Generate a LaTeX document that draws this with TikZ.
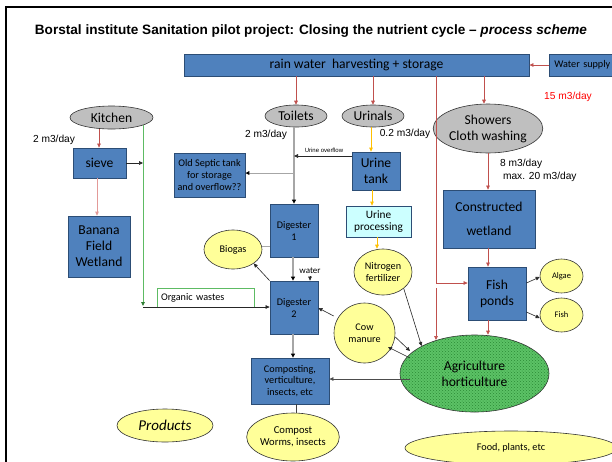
\documentclass[tikz,border=0pt]{standalone}
\usepackage{fontspec}
\setmainfont{Carlito}
\newfontfamily\arialf{Liberation Sans}
\usetikzlibrary{shapes.geometric,arrows.meta,patterns}
\definecolor{boxblue}{HTML}{4F81BD}
\definecolor{boxedge}{HTML}{2C4D75}
\definecolor{ellgray}{HTML}{BFBFBF}
\definecolor{ellyel}{HTML}{FFFF99}
\definecolor{cyanbox}{HTML}{CCFFFF}
\definecolor{redl}{HTML}{C0504D}
\definecolor{lightred}{HTML}{E39A98}
\definecolor{goldl}{HTML}{FFC000}
\definecolor{greenl}{HTML}{5DBB63}
\definecolor{darkgreenl}{HTML}{2E7D32}
\definecolor{agrgreen}{HTML}{5CC266}
\definecolor{agrdark}{HTML}{2A8A35}
\definecolor{grayl}{HTML}{A6A6A6}
\definecolor{redtext}{HTML}{FF0000}
\newcommand\myfbig{\fontsize{13.6}{16}\selectfont}
\newcommand\myfmid{\fontsize{10.2}{12}\selectfont}
\newcommand\myfsmall{\fontsize{8.5}{10}\selectfont}
\begin{document}
\begin{tikzpicture}[x=1pt,y=-1pt,
  bluebox/.style={draw=boxedge, fill=boxblue, line width=0.8pt, inner sep=1pt, align=center, font=\myfbig},
  ell/.style={ellipse, draw=black!80, line width=0.6pt, inner sep=0pt, align=center},
  grayell/.style={ell, fill=ellgray, font=\myfbig},
  yell/.style={ell, fill=ellyel, font=\myfmid},
  arr/.style={-{Triangle[length=4pt,width=3.6pt]}},
  redarr/.style={draw=redl, line width=0.7pt, arr},
  goldarr/.style={draw=goldl, line width=0.8pt, arr},
  grayarr/.style={draw=grayl, line width=2.2pt, -{Triangle[length=4pt,width=4pt,color=black]}},
  blkarr/.style={draw=black!85, line width=0.6pt, arr},
  lbl/.style={font=\arialf\myfmid, inner sep=0pt}
]
\useasboundingbox (0,0) rectangle (612,461);
\clip (0,0) rectangle (612,461);
\fill[white] (0,0) rectangle (612,461);
% frame
\draw[line width=2.5pt] (6,480) -- (6,7) -- (630,7);
% title
\node[font=\fontsize{13.6}{16}\selectfont\arialf\bfseries, inner sep=0pt] (title) at (311,31)
  {Borstal institute Sanitation pilot project: Closing the nutrient cycle – \textit{process scheme}};

% top boxes
\node[bluebox, minimum width=345pt, minimum height=22pt] (rain) at (356.5,65) {rain water\ \ harvesting + storage};
\node[bluebox, font=\myfmid, minimum width=76pt, minimum height=22pt, text width=68pt, align=left, inner xsep=5pt, anchor=west] (ws) at (549,65) {Water supply};
\node[lbl, text=redtext] (q15) at (568,97) {15 m3/day};

% ellipses row
\node[grayell, minimum width=83pt, minimum height=23pt] (kitchen) at (111.5,117.5) {Kitchen};
\node[grayell, minimum width=62pt, minimum height=22pt] (toilets) at (296,116) {Toilets};
\node[grayell, minimum width=62pt, minimum height=22pt] (urinals) at (373,116) {Urinals};
\node[grayell, minimum width=98pt, minimum height=49pt] (showers) at (488,128.5) {Showers\\Cloth washing};

% boxes
\node[bluebox, minimum width=53pt, minimum height=30pt] (sieve) at (99.5,163) {sieve};
\node[bluebox, minimum width=62pt, minimum height=61pt] (banana) at (99,246.5) {Banana\\Field\\Wetland};
\node[bluebox, font=\myfmid, minimum width=71pt, minimum height=44pt] (old) at (209.5,175) {Old Septic tank\\for storage\\and overflow??};
\node[bluebox, minimum width=48pt, minimum height=38pt] (utank) at (376,171) {Urine\\tank};
\node[bluebox, fill=cyanbox, font=\fontsize{11.3}{12}\selectfont, minimum width=65pt, minimum height=31pt] (uproc) at (378.5,221.5) {Urine\\processing};
\node[bluebox, minimum width=92pt, minimum height=58pt] (wetland) at (489,219) {Constructed\\[8pt]wetland};
\node[bluebox, minimum width=58pt, minimum height=53pt] (fish) at (497,293.5) {Fish\\ponds};
\node[bluebox, font=\myfmid, minimum width=48pt, minimum height=53pt] (dig1) at (294,230.5) {Digester\\1};
\node[bluebox, font=\myfmid, minimum width=48pt, minimum height=53pt] (dig2) at (294,307.5) {Digester\\2};
\node[bluebox, font=\fontsize{10.2}{11.5}\selectfont, minimum width=78pt, minimum height=46pt] (comp) at (290,381) {Composting,\\verticulture,\\insects, etc};

% yellow ellipses
\node[yell, minimum width=58pt, minimum height=46pt] (nitro) at (383,272) {Nitrogen\\fertilizer};
\node[yell, minimum width=58pt, minimum height=39pt] (biogas) at (233,249.5) {Biogas};
\node[yell, minimum width=61pt, minimum height=60pt] (cow) at (364.5,333) {Cow\\manure};
\node[yell, font=\myfsmall, minimum width=43pt, minimum height=34pt] (algae) at (561.5,276) {Algae};
\node[yell, font=\myfsmall, minimum width=43pt, minimum height=34pt] (fishe) at (561.5,315) {Fish};
\node[yell, font=\fontsize{10.6}{12}\selectfont, minimum width=72pt, minimum height=48pt] (compost) at (293,437) {Compost\\Worms, insects};
\node[yell, font=\fontsize{15}{17}\selectfont\itshape, minimum width=96pt, minimum height=33pt] (products) at (165,425.5) {Products};
\node[yell, minimum width=212pt, minimum height=34pt] (food) at (511,448) {Food, plants, etc};
\node[ell, fill=agrgreen, postaction={pattern=crosshatch dots, pattern color=agrdark}, font=\myfbig, minimum width=149pt, minimum height=77pt] (agri) at (474.5,373.5) {};
\node[font=\myfbig, align=center, inner sep=0pt] (agritext) at (474.5,373.5) {Agriculture\\horticulture};

% organic wastes
\node[draw=greenl, line width=0.8pt, minimum width=97pt, minimum height=19pt, text width=89pt, align=left, inner xsep=4pt, font=\myfmid] (org) at (205.5,297.5) {Organic wastes};

% labels
\node[lbl] (k2) at (54,140) {2 m3/day};
\node[lbl] (t2) at (266,135) {2 m3/day};
\node[lbl] (u02) at (405,134) {0.2 m3/day};
\node[lbl, font=\arialf\fontsize{6}{7}\selectfont] (uov) at (324,150) {Urine overflow};
\node[lbl, align=left, anchor=west, font=\arialf\fontsize{10.2}{13}\selectfont] (q8) at (500,170) {8 m3/day\\\ max. 20 m3/day};
\node[font=\fontsize{9}{10}\selectfont, inner sep=0pt] (wat) at (310,270.5) {water};

% coordinates
\coordinate (rx) at (436,0);
\coordinate (a1) at (436,340);
\coordinate (rb) at (436,288);
\coordinate (kx) at (99,0);
\coordinate (gk) at (143,125);
\coordinate (gb) at (143,306);
\coordinate (gs) at (143,163);
\coordinate (tx) at (294,0);
\coordinate (ov) at (294,156);
\coordinate (os) at (294,173);
\coordinate (w1) at (310,276);

% red connectors
\draw[redarr] (ws.west) -- (rain.east);
\draw[redarr] (rain.south -| toilets) -- (toilets.north);
\draw[redarr] (rain.south -| urinals) -- (urinals.north);
\draw[redarr] (rain.south -| 484,0) -- (showers.north -| 484,0);
\draw[redarr] (rx |- rain.south) |- ([yshift=10.5pt]fish.west);
\draw[redarr] (rb) -- (a1);
\draw[redarr] (showers.south) -- (wetland.north -| showers.south);
\draw[redarr] (wetland.south -| 488,0) -- (fish.north -| 488,0);
\draw[redarr] (fish.south -| 488,0) -- (agri.north -| 488,0);
\draw[redarr] (kitchen.south -| kx) -- (sieve.north -| kx);
\draw[draw=lightred, line width=0.9pt, arr] (sieve.south -| 97,0) -- (banana.north -| 97,0);

% gold connectors
\draw[goldarr] (urinals.south -| 371,0) -- (utank.north -| 371,0);
\draw[goldarr] (utank.south -| 372,0) -- (uproc.north -| 372,0);
\draw[goldarr] (uproc.south -| 377,0) -- (nitro.north -| 377,0);

% green / kitchen side
\draw[draw=greenl, line width=0.9pt, -{Triangle[length=4pt,width=3.6pt,color=darkgreenl]}] (gk) -- (gb);
\draw[blkarr] (sieve.east |- gs) -- (gs);
\draw[blkarr] (gb |- 0,307) -- (dig2.west |- 0,307);

% toilets branch
\draw[grayarr] (toilets.south -| tx) -- (dig1.north -| tx);
\draw[blkarr] (utank.west |- ov) -- (ov);
\draw[draw=grayl, line width=1pt, -{Triangle[length=4pt,width=3.6pt,color=black]}] (os) -- (old.east |- os);

% digesters
\draw[draw=grayl, line width=1pt] (dig1.west |- 0,246) -- (biogas.east |- 0,246);
\draw[grayarr] (dig1.south -| 293,0) -- (dig2.north -| 293,0);
\draw[blkarr] (w1) -- (dig2.north -| w1);
\draw[blkarr] (dig2.north west) -- (biogas.south east);
\draw[blkarr] (cow.west |- 0,316) -- ([yshift=-0.5pt]dig2.east);
\draw[grayarr] (dig2.south -| 293,0) -- (comp.north -| 293,0);
\draw[draw=black!75, line width=0.7pt] (comp.south -| 296,0) -- (compost.north -| 296,0);

% agriculture
\draw[blkarr] (nitro.south east) -- (agri.north west);
\draw[blkarr] (cow.east |- 0,337) -- (410,351) coordinate (cwa);
\draw[blkarr] (410,358) coordinate (acw) -- (388,347);
\draw[draw=black!70, line width=0.7pt, arr] (410,379) coordinate (ac) -- (comp.east |- ac);

% fish
\draw[blkarr] (fish.east |- 0,283) -- (algae.west |- 0,277);
\draw[blkarr] (fish.east |- 0,312) -- (fishe.west |- 0,318);
\end{tikzpicture}
\end{document}
